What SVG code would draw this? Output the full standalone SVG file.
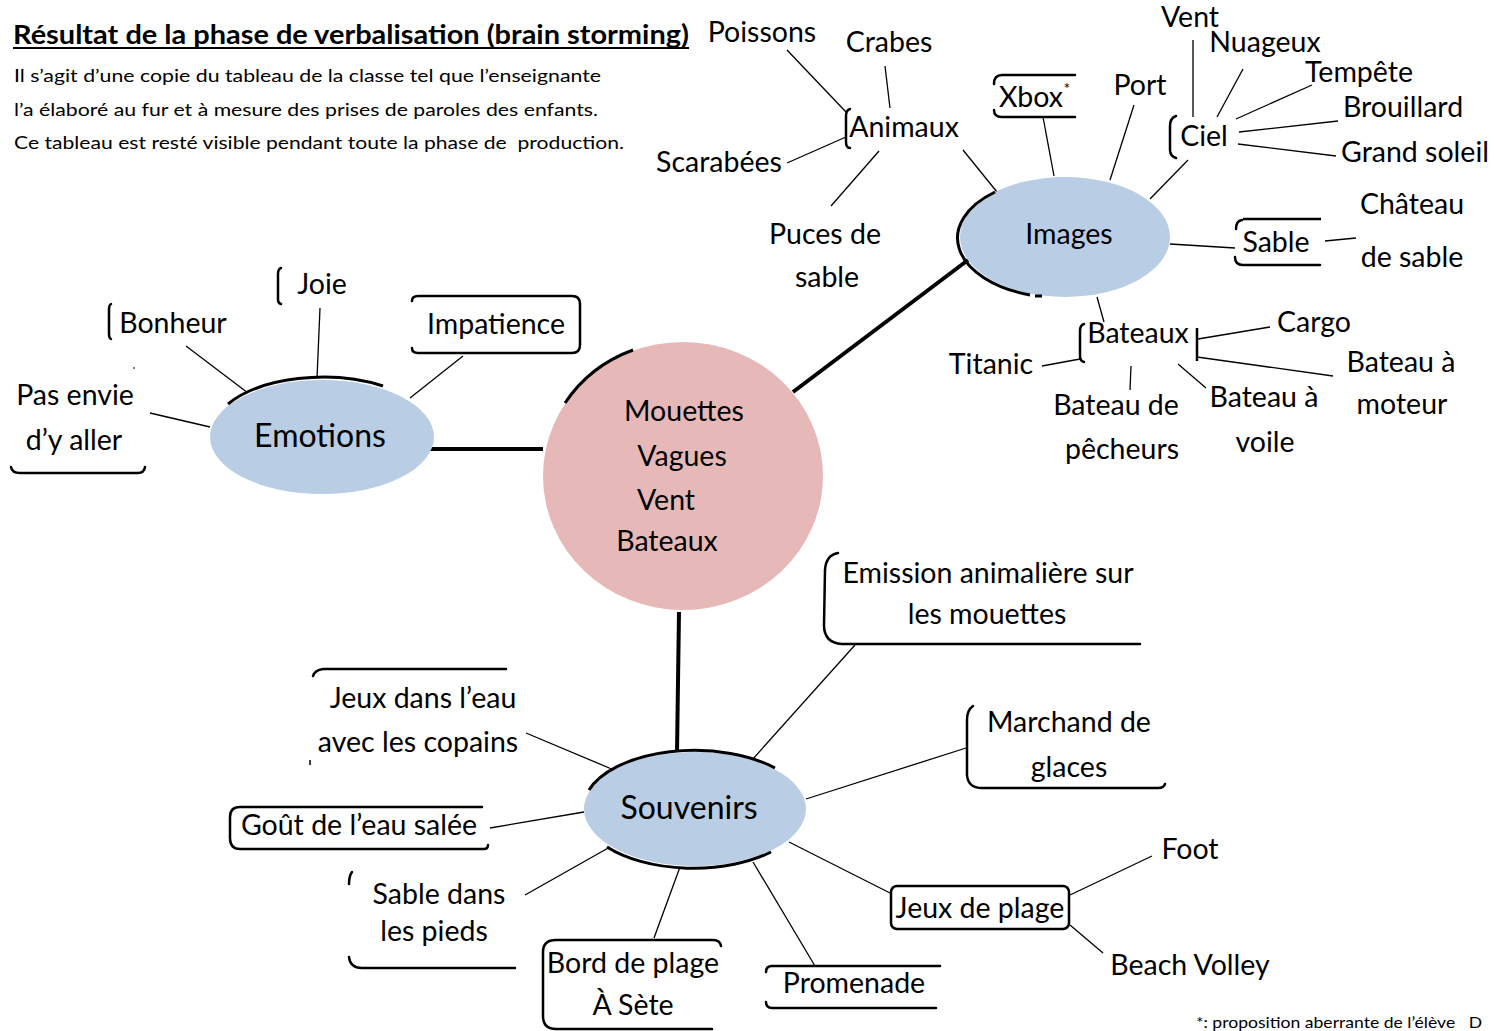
<svg xmlns="http://www.w3.org/2000/svg" width="1494" height="1031" viewBox="0 0 1494 1031">
<style>
text{font-family:Lato,"Open Sans","Noto Sans",sans-serif;fill:#000;}
.t{font-size:28.5px;text-anchor:middle;}
.big{font-size:32px;text-anchor:middle;}
.p{font-size:18px;}
.ln{stroke:#000;stroke-width:1.3;fill:none;}
.thick{stroke:#000;stroke-width:4;fill:none;}
.br{stroke:#000;stroke-width:2.5;fill:none;stroke-linecap:round;}
.arc{stroke:#000;stroke-width:3;fill:none;}
.blue{fill:#B9CDE5;}
.pink{fill:#E6B9B8;}
</style>
<rect width="1494" height="1031" fill="#fff"/>

<g id="header">
<text x="13" y="44" font-size="26" font-weight="bold" textLength="676" lengthAdjust="spacingAndGlyphs">Résultat de la phase de verbalisation (brain storming)</text>
<line x1="13" y1="48" x2="689" y2="48" stroke="#000" stroke-width="2"/>
<text class="p" x="14" y="82" textLength="587" lengthAdjust="spacingAndGlyphs">Il s’agit d’une copie du tableau de la classe tel que l’enseignante</text>
<text class="p" x="14" y="116" textLength="584" lengthAdjust="spacingAndGlyphs">l’a élaboré au fur et à mesure des prises de paroles des enfants.</text>
<text class="p" x="14" y="149" textLength="610" lengthAdjust="spacingAndGlyphs" xml:space="preserve">Ce tableau est resté visible pendant toute la phase de  production.</text>
</g>

<g id="connectors">
<line class="thick" x1="410" y1="449" x2="543" y2="449"/>
<line class="thick" x1="793" y1="392" x2="968" y2="260"/>
<line class="thick" x1="679" y1="612" x2="677" y2="752"/>
<line class="ln" x1="320" y1="308" x2="317" y2="378"/>
<line class="ln" x1="186" y1="346" x2="248" y2="393"/>
<line class="ln" x1="150" y1="413" x2="210" y2="427"/>
<line class="ln" x1="463" y1="356" x2="410" y2="398"/>
<line class="ln" x1="963" y1="150" x2="997" y2="192"/>
<line class="ln" x1="1043" y1="117" x2="1054" y2="176"/>
<line class="ln" x1="1134" y1="105" x2="1110" y2="180"/>
<line class="ln" x1="1188" y1="160" x2="1150" y2="199"/>
<line class="ln" x1="1170" y1="244" x2="1235" y2="248"/>
<line class="ln" x1="1097" y1="297" x2="1104" y2="322"/>
<line class="ln" x1="787" y1="50" x2="846" y2="112"/>
<line class="ln" x1="885" y1="66" x2="890" y2="108"/>
<line class="ln" x1="787" y1="163" x2="846" y2="137"/>
<line class="ln" x1="879" y1="151" x2="831" y2="206"/>
<line class="ln" x1="1193" y1="40" x2="1193" y2="117"/>
<line class="ln" x1="1243" y1="69" x2="1217" y2="117"/>
<line class="ln" x1="1312" y1="85" x2="1236" y2="119"/>
<line class="ln" x1="1338" y1="121" x2="1239" y2="132"/>
<line class="ln" x1="1238" y1="144" x2="1336" y2="156"/>
<line class="ln" x1="1325" y1="241" x2="1356" y2="238"/>
<line class="ln" x1="1042" y1="366" x2="1080" y2="359"/>
<line class="ln" x1="1270" y1="327" x2="1198" y2="339"/>
<line class="ln" x1="1197" y1="357" x2="1333" y2="376"/>
<line class="ln" x1="1131" y1="366" x2="1130" y2="390"/>
<line class="ln" x1="1178" y1="364" x2="1206" y2="388"/>
<line class="ln" x1="855" y1="645" x2="752" y2="760"/>
<line class="ln" x1="966" y1="748" x2="806" y2="799"/>
<line class="ln" x1="789" y1="842" x2="890" y2="893"/>
<line class="ln" x1="753" y1="862" x2="815" y2="966"/>
<line class="ln" x1="680" y1="867" x2="654" y2="938"/>
<line class="ln" x1="525" y1="895" x2="610" y2="847"/>
<line class="ln" x1="490" y1="828" x2="584" y2="812"/>
<line class="ln" x1="526" y1="733" x2="614" y2="770"/>
<line class="ln" x1="1070" y1="895" x2="1152" y2="856"/>
<line class="ln" x1="1070" y1="925" x2="1103" y2="953"/>
</g>

<g id="centre">
<ellipse class="pink" cx="683" cy="476" rx="140" ry="134"/>
<path class="arc" d="M 565,403 A 140 134 0 0 1 633,350"/>
<text class="t" x="684" y="421">Mouettes</text>
<text class="t" x="682" y="466">Vagues</text>
<text class="t" x="666" y="510">Vent</text>
<text class="t" x="667" y="551">Bateaux</text>
</g>

<g id="emotions">
<ellipse class="blue" cx="322" cy="437" rx="112" ry="57"/>
<path class="arc" d="M 228,404 A 112 57 0 0 1 383,386"/>
<text class="big" x="320" y="447">Emotions</text>
</g>
<g id="joie">
<path class="br" d="M 281,268 Q 278,269 278,274 L 278,300 Q 278,303 281,304"/>
<text class="t" x="322" y="294">Joie</text>
</g>
<g id="bonheur">
<path class="br" d="M 111,304 Q 109,305 109,310 L 109,334 Q 109,338 111,339"/>
<text class="t" x="173" y="333">Bonheur</text>
</g>
<g id="impatience">
<path class="br" d="M 412,301 Q 412,296 418,296 L 572,296 Q 580,296 580,304 L 580,345 Q 580,353 572,353 L 418,353 Q 412,353 412,348"/>
<text class="t" x="496" y="334">Impatience</text>
</g>
<g id="pasenvie">
<path class="br" d="M 11,467 Q 12,473 20,473 L 138,473 Q 144,473 145,467"/>
<line x1="134" y1="367" x2="134" y2="369" stroke="#000" stroke-width="1"/>
<text class="t" x="75" y="405">Pas envie</text>
<text class="t" x="74" y="450">d’y aller</text>
</g>

<g id="images">
<ellipse class="blue" cx="1065" cy="237" rx="105" ry="60"/>
<path class="arc" d="M 995,192 A 105 60 0 0 0 1030,295"/>
<line x1="1035" y1="296" x2="1042" y2="296" stroke="#000" stroke-width="3"/>
<text class="t" x="1069" y="244">Images</text>
</g>
<g id="animaux">
<path class="br" d="M 850,109 Q 846,110 846,116 L 846,142 Q 846,148 850,148"/>
<text class="t" x="904" y="137">Animaux</text>
</g>
<g id="poissons"><text class="t" x="762" y="42">Poissons</text></g>
<g id="crabes"><text class="t" x="889" y="52">Crabes</text></g>
<g id="scarabees"><text class="t" x="719" y="172">Scarabées</text></g>
<g id="puces"><text class="t" x="825" y="244">Puces de</text><text class="t" x="827" y="287">sable</text></g>
<g id="xbox">
<path class="br" d="M 994,84 Q 994,75 1002,75 L 1075,75"/>
<path class="br" d="M 994,110 Q 994,117 1002,117 L 1075,117"/>
<text class="t" x="1031" y="107">Xbox</text>
<text x="1067" y="94" font-size="16" text-anchor="middle">*</text>
</g>
<g id="port"><text class="t" x="1140" y="95">Port</text></g>
<g id="ciel">
<path class="br" d="M 1176,116 Q 1170,118 1170,126 L 1170,150 Q 1170,156 1176,158"/>
<text class="t" x="1204" y="146">Ciel</text>
</g>
<g id="vent"><text class="t" x="1190" y="27">Vent</text></g>
<g id="nuageux"><text class="t" x="1265" y="52">Nuageux</text></g>
<g id="tempete"><text class="t" x="1359" y="82">Tempête</text></g>
<g id="brouillard"><text class="t" x="1403" y="117">Brouillard</text></g>
<g id="grandsoleil"><text class="t" x="1415" y="162">Grand soleil</text></g>
<g id="sable">
<path class="br" d="M 1236,229 Q 1236,221 1242,220"/>
<line x1="1243" y1="219" x2="1321" y2="219" stroke="#000" stroke-width="2.5"/>
<path class="br" d="M 1235,257 Q 1235,265 1243,265 L 1320,265"/>
<text class="t" x="1276" y="252">Sable</text>
</g>
<g id="chateau"><text class="t" x="1412" y="214">Château</text><text class="t" x="1412" y="267">de sable</text></g>
<g id="bateaux">
<path class="br" d="M 1084,324 Q 1080,325 1080,331 L 1080,356 Q 1080,361 1084,362"/>
<line x1="1197" y1="328" x2="1197" y2="361" stroke="#000" stroke-width="2.5"/>
<text class="t" x="1138" y="343">Bateaux</text>
</g>
<g id="titanic"><text class="t" x="991" y="374">Titanic</text></g>
<g id="cargo"><text class="t" x="1314" y="332">Cargo</text></g>
<g id="bateaumoteur"><text class="t" x="1401" y="372">Bateau à</text><text class="t" x="1402" y="414">moteur</text></g>
<g id="bateaupecheurs"><text class="t" x="1116" y="415">Bateau de</text><text class="t" x="1122" y="459">pêcheurs</text></g>
<g id="bateauvoile"><text class="t" x="1264" y="407">Bateau à</text><text class="t" x="1265" y="452">voile</text></g>

<g id="souvenirs">
<ellipse class="blue" cx="695" cy="809" rx="111" ry="57"/>
<path class="arc" d="M 589,790 A 111 57 0 0 1 775,768"/>
<path class="arc" d="M 607,847 A 111 57 0 0 0 771,852"/>
<text class="big" x="689" y="819">Souvenirs</text>
</g>
<g id="emission">
<path class="br" d="M 838,553 Q 826,555 825,570 L 824,625 Q 824,643 842,644 L 1140,644"/>
<text class="t" x="988" y="583">Emission animalière sur</text>
<text class="t" x="987" y="624">les mouettes</text>
</g>
<g id="marchand">
<path class="br" d="M 973,706 Q 967,710 967,720 L 967,775 Q 968,788 982,788 L 1158,788 Q 1164,788 1165,784"/>
<text class="t" x="1069" y="732">Marchand de</text>
<text class="t" x="1069" y="777">glaces</text>
</g>
<g id="jeuxplage">
<rect x="891" y="886" width="178" height="43" rx="6" class="br"/>
<text class="t" x="980" y="918">Jeux de plage</text>
</g>
<g id="foot"><text class="t" x="1190" y="859">Foot</text></g>
<g id="beachvolley"><text class="t" x="1190" y="975">Beach Volley</text></g>
<g id="promenade">
<path class="br" d="M 766,972 Q 766,966 772,966 L 940,966"/>
<path class="br" d="M 766,1002 Q 766,1008 772,1008 L 936,1008"/>
<text class="t" x="854" y="993">Promenade</text>
</g>
<g id="bordplage">
<path class="br" d="M 712,1029 L 556,1029 Q 543,1029 543,1016 L 543,952 Q 543,940 556,940 L 713,940 Q 720,940 721,946"/>
<text class="t" x="633" y="973">Bord de plage</text>
<text class="t" x="633" y="1015">À Sète</text>
</g>
<g id="sablepieds">
<path class="br" d="M 352,872 Q 349,876 349,884"/>
<path class="br" d="M 349,957 Q 350,968 362,968 L 515,968"/>
<text class="t" x="439" y="904">Sable dans</text>
<text class="t" x="434" y="941">les pieds</text>
</g>
<g id="gout">
<path class="br" d="M 482,807 L 240,807 Q 230,807 230,817 L 230,838 Q 230,849 240,849 L 484,849 Q 488,849 488,845"/>
<text class="t" x="359" y="835">Goût de l’eau salée</text>
</g>
<g id="jeuxeau">
<path class="br" d="M 313,676 Q 315,670 323,669 L 506,669"/>
<line x1="310" y1="760" x2="310" y2="765" stroke="#000" stroke-width="1.5"/>
<text class="t" x="423" y="708">Jeux dans l’eau</text>
<text class="t" x="418" y="752">avec les copains</text>
</g>

<g id="footnote">
<text x="1196" y="1028" font-size="15" textLength="286" lengthAdjust="spacingAndGlyphs" xml:space="preserve">*: proposition aberrante de l’élève   D</text>
</g>
</svg>
